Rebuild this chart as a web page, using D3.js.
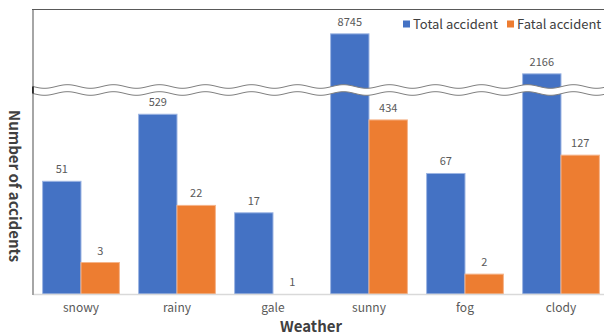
<!DOCTYPE html>
<html><head><meta charset="utf-8">
<script src="https://cdn.jsdelivr.net/npm/d3@7"></script>
<style>body{margin:0;background:#fff}svg{display:block}text{font-family:"Noto Sans CJK KR","Noto Sans",sans-serif}</style>
</head><body><svg id="c" width="604" height="335"></svg>
<script>
const categories = ["snowy","rainy","gale","sunny","fog","clody"];
const totalAccident = [51,529,17,8745,67,2166];
const fatalAccident = [3,22,1,434,2,127];
const seriesNames = ["Total accident","Fatal accident"];
const colors = ["#4472C4","#ED7D31"];
const strokes = ["#9DB5E3","#F5B48A"];

const svg = d3.select("#c");
const left = 33, right = 609, base = 294;
const x = d3.scaleBand().domain(categories).range([left, right]).paddingInner(0.2).paddingOuter(0.1);
const xs = d3.scaleBand().domain([0,1]).range([0, x.bandwidth()]);
const y = d3.scaleLog().domain([1, 10000]).range([base, 30]);

const series = [totalAccident, fatalAccident];
series.forEach((vals, si) => {
  const g = svg.append("g");
  g.selectAll("rect").data(vals).join("rect")
    .attr("x", (d,i) => x(categories[i]) + xs(si))
    .attr("y", d => y(d))
    .attr("width", xs.bandwidth())
    .attr("height", d => base - y(d))
    .attr("fill", colors[si])
    .attr("stroke", d => base - y(d) > 0 ? strokes[si] : "none")
    .attr("stroke-width", 1);
  g.selectAll("text").data(vals).join("text")
    .attr("x", (d,i) => x(categories[i]) + xs(si) + xs.bandwidth()/2)
    .attr("y", d => y(d) - 8)
    .attr("text-anchor", "middle")
    .attr("font-size", 11)
    .attr("fill", "#595959")
    .text(d => d);
});

// baseline (category axis)
svg.append("line").attr("x1", left).attr("x2", 604).attr("y1", base + 0.5).attr("y2", base + 0.5)
  .attr("stroke", "#D9D9D9").attr("stroke-width", 1.5);
// left axis line
svg.append("line").attr("x1", left).attr("x2", left).attr("y1", 9).attr("y2", base + 1)
  .attr("stroke", "#A6A6A6").attr("stroke-width", 2);
// top border
svg.append("line").attr("x1", left - 1).attr("x2", 604).attr("y1", 9.5).attr("y2", 9.5)
  .attr("stroke", "#595959").attr("stroke-width", 1.2);

// category labels
const xAxis = svg.append("g").attr("transform", `translate(0,${base})`)
  .call(d3.axisBottom(x).tickSize(0).tickPadding(9));
xAxis.select(".domain").remove();
xAxis.selectAll("text").attr("font-size", 12).attr("fill", "#595959")
  .attr("font-family", '"Noto Sans CJK KR","Noto Sans",sans-serif');

// axis break (wavy)
const period = 46, amp = 1.8, topY = 86.5, gap = 7;
const pts = d3.range(left, 605, 1);
const wave = (off) => pts.map(px => [px, topY + off + amp * Math.sin((px - left) / period * 2 * Math.PI)]);
const area = d3.area().x(d => d[0]).y0(d => d[1]).y1(d => d[1] + gap);
svg.append("path").attr("d", area(wave(0))).attr("fill", "#fff");
const line = d3.line();
svg.append("path").attr("d", line(wave(0))).attr("fill", "none").attr("stroke", "#7F7F7F").attr("stroke-width", 1);
svg.append("path").attr("d", line(wave(gap))).attr("fill", "none").attr("stroke", "#7F7F7F").attr("stroke-width", 1);
svg.append("line").attr("x1", left).attr("x2", left).attr("y1", topY).attr("y2", topY + gap)
  .attr("stroke", "#000").attr("stroke-width", 1.5);

// axis titles
svg.append("text").attr("x", 311).attr("y", 332).attr("text-anchor", "middle")
  .attr("font-size", 15).attr("font-weight", 600).attr("fill", "#404040").text("Weather");
svg.append("text").attr("transform", "translate(9,186) rotate(90)").attr("text-anchor", "middle")
  .attr("font-size", 15).attr("font-weight", 600).attr("fill", "#404040").text("Number of accidents");

// legend
const lg = svg.append("g");
const lx = [403, 507];
seriesNames.forEach((n, i) => {
  lg.append("rect").attr("x", lx[i]).attr("y", 20.5).attr("width", 7).attr("height", 7).attr("fill", colors[i]);
  lg.append("text").attr("x", lx[i] + 10).attr("y", 29).attr("font-size", 13).attr("fill", "#404040").text(n);
});
</script></body></html>
